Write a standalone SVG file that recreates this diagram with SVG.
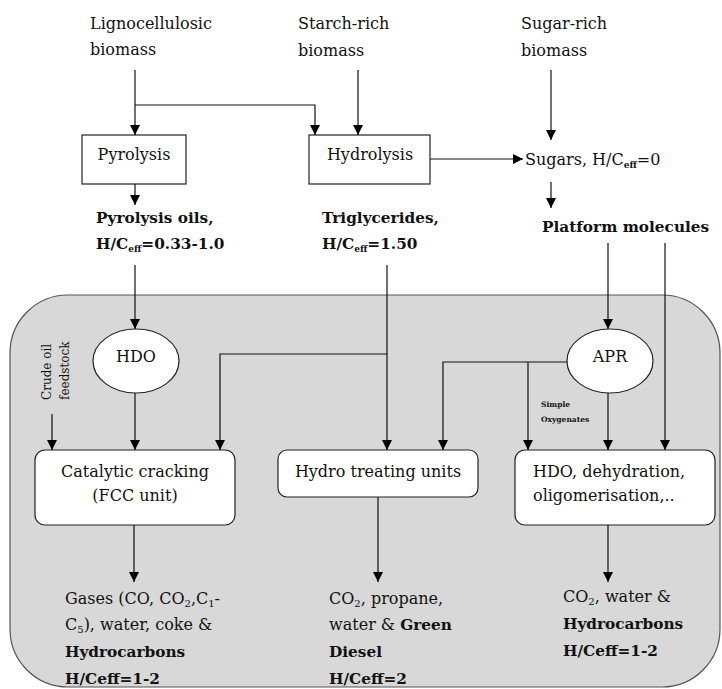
<svg xmlns="http://www.w3.org/2000/svg" width="722" height="689" viewBox="0 0 722 689">
<defs>
<marker id="ah" viewBox="0 0 10 10" refX="10" refY="5" markerWidth="10" markerHeight="10" markerUnits="userSpaceOnUse" orient="auto">
<path d="M0,0 L10,5 L0,10 Z" fill="#000"/>
</marker>
</defs>
<style>
text{font-family:"DejaVu Serif","Liberation Serif",serif;font-size:16px;fill:#111}
.b{font-weight:bold;font-size:15.3px}
.s{font-size:10px}
.sb{font-size:9px;font-weight:bold}
.tiny{font-size:7.5px;font-weight:bold}
.rot{font-size:12px}
.box{fill:#fff;stroke:#222;stroke-width:1.2}
.ar{fill:none;stroke:#111;stroke-width:1.2;marker-end:url(#ah)}
</style>
<rect id="panel" x="10" y="295" width="710" height="392" rx="58" ry="58" fill="#d8d8d8" stroke="#555" stroke-width="1.2"/>

<g id="labels-top">
<text x="90" y="29">Lignocellulosic</text>
<text x="90" y="55">biomass</text>
<text x="298" y="29">Starch-rich</text>
<text x="298" y="56">biomass</text>
<text x="521" y="29">Sugar-rich</text>
<text x="521" y="56">biomass</text>
</g>

<g id="pyrolysis"><rect class="box" x="82" y="135" width="104" height="49"/><text x="134" y="160" text-anchor="middle">Pyrolysis</text></g>
<g id="hydrolysis"><rect class="box" x="309" y="135" width="121" height="49"/><text x="370" y="160" text-anchor="middle">Hydrolysis</text></g>
<g id="sugars"><text x="525" y="165">Sugars, H/C<tspan class="sb" dy="3">eff</tspan><tspan dy="-3">=0</tspan></text></g>
<g id="pyro-oils"><text class="b" x="96" y="223">Pyrolysis oils,</text><text class="b" x="96" y="249">H/C<tspan class="sb" dy="3">eff</tspan><tspan dy="-3">=0.33-1.0</tspan></text></g>
<g id="triglycerides"><text class="b" x="322" y="223">Triglycerides,</text><text class="b" x="322" y="249">H/C<tspan class="sb" dy="3">eff</tspan><tspan dy="-3">=1.50</tspan></text></g>
<g id="platform"><text class="b" x="542" y="232">Platform molecules</text></g>

<g id="hdo1"><ellipse cx="136" cy="361" rx="43" ry="32" fill="#fff" stroke="#222" stroke-width="1.2"/><text x="136" y="362" text-anchor="middle">HDO</text></g>
<g id="apr"><ellipse cx="610" cy="361" rx="43" ry="32" fill="#fff" stroke="#222" stroke-width="1.2"/><text x="610" y="362" text-anchor="middle">APR</text></g>
<g id="crude"><text class="rot" transform="translate(51,400) rotate(-90)">Crude oil</text><text class="rot" transform="translate(69,400) rotate(-90)">feedstock</text></g>
<g id="simple-oxy"><text class="tiny" x="541" y="407">Simple</text><text class="tiny" x="541" y="422">Oxygenates</text></g>

<g id="cat-cracking"><rect class="box" x="35" y="450" width="200" height="75" rx="10"/><text x="135" y="477" text-anchor="middle">Catalytic cracking</text><text x="135" y="501" text-anchor="middle">(FCC unit)</text></g>
<g id="hydrotreating"><rect class="box" x="278" y="450" width="200" height="47" rx="9"/><text x="378" y="477" text-anchor="middle">Hydro treating units</text></g>
<g id="hdo-box"><rect class="box" x="515" y="450" width="200" height="75" rx="10"/><text x="533" y="477">HDO, dehydration,</text><text x="533" y="501">oligomerisation,..</text></g>

<g id="out-left">
<text x="65" y="604">Gases (CO, CO<tspan class="s" dy="3">2</tspan><tspan dy="-3">,C</tspan><tspan class="s" dy="3">1</tspan><tspan dy="-3">-</tspan></text>
<text x="65" y="630">C<tspan class="s" dy="3">5</tspan><tspan dy="-3">), water, coke &amp;</tspan></text>
<text class="b" x="65" y="657">Hydrocarbons</text>
<text class="b" x="65" y="684">H/Ceff=1-2</text>
</g>
<g id="out-mid">
<text x="329" y="604">CO<tspan class="s" dy="3">2</tspan><tspan dy="-3">, propane,</tspan></text>
<text x="329" y="630">water &amp; <tspan class="b">Green</tspan></text>
<text class="b" x="329" y="657">Diesel</text>
<text class="b" x="329" y="684">H/Ceff=2</text>
</g>
<g id="out-right">
<text x="563" y="602">CO<tspan class="s" dy="3">2</tspan><tspan dy="-3">, water &amp;</tspan></text>
<text class="b" x="563" y="629">Hydrocarbons</text>
<text class="b" x="563" y="656">H/Ceff=1-2</text>
</g>

<g id="connectors">
<path class="ar" d="M135,70 V135"/>
<path class="ar" d="M135,105 H315 V135"/>
<path class="ar" d="M358,70 V135"/>
<path class="ar" d="M551,70 V140"/>
<path class="ar" d="M430,159 H523"/>
<path class="ar" d="M551,182 V208"/>
<path class="ar" d="M135,184 V205"/>
<path class="ar" d="M135,265 V329"/>
<path class="ar" d="M387,265 V450"/>
<path class="ar" d="M387,354 H220 V450"/>
<path class="ar" d="M608,243 V329"/>
<path class="ar" d="M665,243 V450"/>
<path class="ar" d="M567,362 H443 V450"/>
<path class="ar" d="M528,362 V450"/>
<path class="ar" d="M608,393 V450"/>
<path class="ar" d="M135,393 V450"/>
<path class="ar" d="M52,414 V450"/>
<path class="ar" d="M134,525 V582"/>
<path class="ar" d="M378,497 V582"/>
<path class="ar" d="M608,525 V582"/>
</g>
</svg>
